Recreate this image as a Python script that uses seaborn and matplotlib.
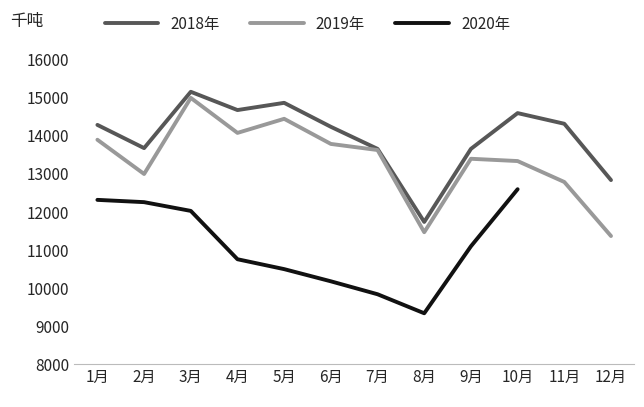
import matplotlib.pyplot as plt
import seaborn as sns
import pandas as pd

months = [f"{i}月" for i in range(1, 13)]
y2018 = [14290, 13680, 15160, 14680, 14870, 14240, 13660, 11740, 13660, 14600, 14320, 12840]
y2019 = [13900, 13000, 15000, 14080, 14450, 13790, 13630, 11470, 13400, 13340, 12790, 11370]
y2020 = [12320, 12260, 12030, 10760, 10500, 10180, 9840, 9340, 11100, 12600]

rows = []
for name, vals in [("2018年", y2018), ("2019年", y2019), ("2020年", y2020)]:
    for m, v in zip(months, vals):
        rows.append({"月": m, "值": v, "年": name})
df = pd.DataFrame(rows)

sns.set_style("white")
plt.rcParams['font.family'] = ['Noto Sans CJK SC', 'DejaVu Sans']

fig, ax = plt.subplots(figsize=(6.44, 4.07), dpi=100)
sns.lineplot(data=df, x="月", y="值", hue="年", sort=False,
             palette=["#575757", "#999999", "#111111"], linewidth=2.8, ax=ax)
ax.set_ylim(8000, 16000)
ax.set_yticks(range(8000, 16001, 1000))
ax.set_xlim(-0.5, 11.5)
ax.set_xlabel("")
ax.set_ylabel("")
for s in ["top", "right", "left"]:
    ax.spines[s].set_visible(False)
ax.spines["bottom"].set_color("#bbbbbb")
ax.tick_params(labelsize=11, length=0)
ax.text(-0.115, 1.11, "千吨", transform=ax.transAxes, fontsize=12)
ax.legend(loc="upper left", bbox_to_anchor=(0.03, 1.19), ncol=3, frameon=False,
          fontsize=11, handlelength=3.5)
fig.subplots_adjust(left=0.115, right=0.985, top=0.853, bottom=0.105)
fig.savefig("out.png")
